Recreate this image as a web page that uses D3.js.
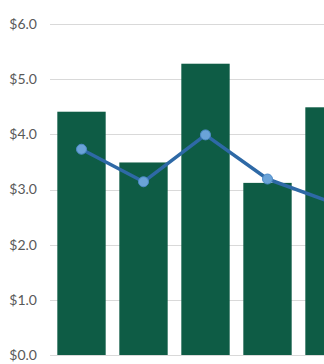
<!DOCTYPE html>
<html>
<head>
<meta charset="utf-8">
<script src="https://cdn.jsdelivr.net/npm/d3@7"></script>
<style>
  html, body { margin: 0; padding: 0; background: #fff; overflow: hidden; }
  svg { display: block; }
</style>
</head>
<body>
<div id="chart"></div>
<script>
// Monthly figures: bars show price, line shows average
const categories = ["Jan", "Feb", "Mar", "Apr", "May"];
const barValues = [4.41, 3.49, 5.28, 3.12, 4.49];
const lineValues = [3.73, 3.14, 3.99, 3.19, 2.78];
const yTicks = [0, 1, 2, 3, 4, 5, 6];

const width = 400, height = 364;

const svg = d3.select("#chart").append("svg")
  .attr("width", width)
  .attr("height", height);

const x = d3.scaleBand()
  .domain(categories)
  .range([50.5, 360.5])
  .paddingInner(0.22)
  .paddingOuter(0.11);

const y = d3.scaleLinear()
  .domain([0, 6])
  .range([355, 24]);

// horizontal gridlines
svg.append("g")
  .selectAll("line")
  .data(yTicks)
  .join("line")
  .attr("x1", 50)
  .attr("x2", width)
  .attr("y1", d => Math.round(y(d)) + 0.5)
  .attr("y2", d => Math.round(y(d)) + 0.5)
  .attr("stroke", "#d9d9d9")
  .attr("stroke-width", 1.2);

// y-axis labels
const yAxis = d3.axisLeft(y)
  .tickValues(yTicks)
  .tickSize(0)
  .tickPadding(0)
  .tickFormat(d => "$" + d3.format(".1f")(d));

svg.append("g")
  .attr("transform", "translate(37,0)")
  .call(yAxis)
  .call(g => g.select(".domain").remove())
  .call(g => g.selectAll("text")
    .attr("fill", "#595959")
    .style("font-family", "Lato, 'Open Sans', sans-serif")
    .style("font-size", "14px"));

// bars
svg.append("g")
  .selectAll("rect")
  .data(barValues)
  .join("rect")
  .attr("x", (d, i) => x(categories[i]))
  .attr("width", x.bandwidth())
  .attr("y", d => y(d))
  .attr("height", d => y(0) - y(d))
  .attr("fill", "#0e5c45");

// average line
const line = d3.line()
  .x((d, i) => x(categories[i]) + x.bandwidth() / 2)
  .y(d => y(d));

svg.append("path")
  .datum(lineValues)
  .attr("d", line)
  .attr("fill", "none")
  .attr("stroke", "#2e69a6")
  .attr("stroke-width", 3.5)
  .attr("stroke-linejoin", "round");

svg.append("g")
  .selectAll("circle")
  .data(lineValues)
  .join("circle")
  .attr("cx", (d, i) => x(categories[i]) + x.bandwidth() / 2)
  .attr("cy", d => y(d))
  .attr("r", 5)
  .attr("fill", "#6aa3d8")
  .attr("stroke", "#4f8cc9")
  .attr("stroke-width", 1);
</script>
</body>
</html>
